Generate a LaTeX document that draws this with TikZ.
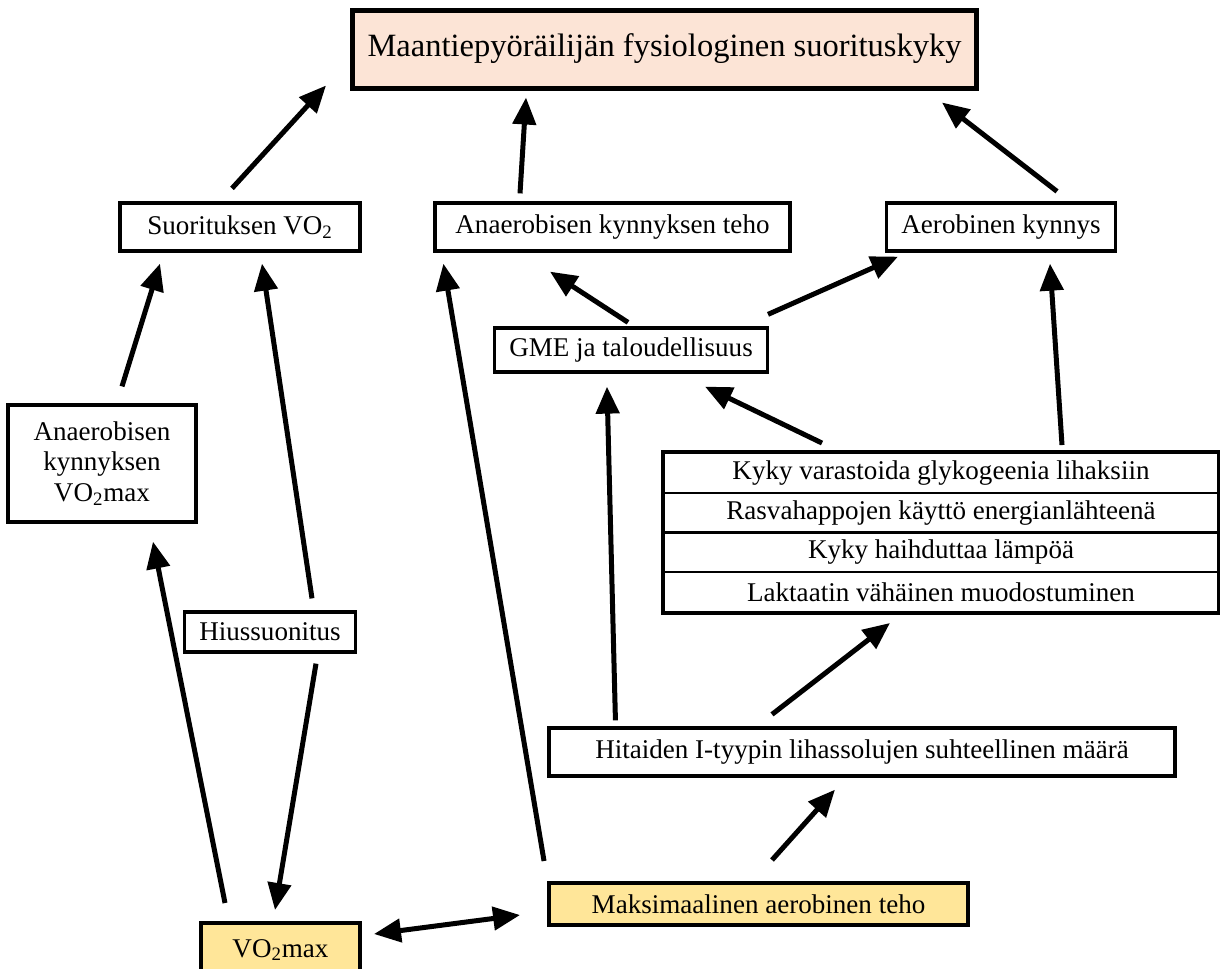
\documentclass[tikz,border=0pt]{standalone}
\usepackage{fontspec}
\setmainfont{Liberation Serif}
\usetikzlibrary{arrows.meta}

\definecolor{peach}{HTML}{FCE4D6}
\definecolor{sand}{HTML}{FFE699}

\tikzset{
  box/.style={draw,line width=0.65mm,inner xsep=3mm,inner ysep=0pt,align=center,
    minimum height=9.6mm,font=\fontsize{15.4}{17.5}\selectfont},
  rowbox/.style={draw,line width=0.4mm,inner sep=0pt,
    minimum width=110.8mm,minimum height=7.95mm,font=\fontsize{15.4}{17.5}\selectfont},
  arr/.style={line width=1mm,-{Triangle[length=5.4mm,width=4.6mm]}},
  arrboth/.style={line width=1mm,{Triangle[length=5.4mm,width=4.6mm]}-{Triangle[length=5.4mm,width=4.6mm]}},
}

\begin{document}
\begin{tikzpicture}[x=0.02cm,y=-0.02cm]
\useasboundingbox (0,0) rectangle (1220,968);
% the goal
\node[box,fill=peach,line width=1mm,minimum width=123mm,minimum height=15.6mm,
  font=\fontsize{18.5}{22}\selectfont] (perf) at (664.5,49) {Maantiepyöräilijän fysiologinen suorituskyky};
% second level
\node[box,minimum width=48mm] (suorvo) at (240,227) {Suorituksen VO\textsubscript{2}};
\node[box,minimum width=71mm] (anteho) at (612.5,227) {Anaerobisen kynnyksen teho};
\node[box] (aerkyn) at (1001,227) {Aerobinen kynnys};
\node[box,minimum height=8.8mm] (gme) at (631,350) {GME ja taloudellisuus};
% left column
\node[box,minimum width=37.6mm,minimum height=23.4mm] (anvomax) at (102,463.5)
  {Anaerobisen\\kynnyksen\\VO\textsubscript{2}max};
\node[box,minimum height=8mm] (hiuss) at (270,632) {Hiussuonitus};
% the list of properties
\node[rowbox] (row1) at (941,472.9) {Kyky varastoida glykogeenia lihaksiin};
\node[rowbox] (row2) at (941,512.6) {Rasvahappojen käyttö energianlähteenä};
\node[rowbox] (row3) at (941,552.4) {Kyky haihduttaa lämpöä};
\node[rowbox] (row4) at (941,592.1) {Laktaatin vähäinen muodostuminen};
\draw[line width=0.8mm] (row1.north west) rectangle (row4.south east);
% bottom
\node[box,minimum width=125.2mm] (hitaat) at (862,752) {Hitaiden I-tyypin lihassolujen suhteellinen määrä};
\node[box,fill=sand,line width=0.8mm,minimum width=83.8mm,minimum height=8.4mm] (maks) at (758.5,904) {Maksimaalinen aerobinen teho};
\node[box,fill=sand,line width=0.8mm,minimum width=31.8mm,minimum height=10.8mm] (vomax) at (280.5,950) {VO\textsubscript{2}max};

% the arrows
\draw[arr] ([shift={(-8,-13)}]suorvo.north) -- ([shift={(-24,-5)}]perf.south west);
\draw[arr] ([shift={(-92.5,-8)}]anteho.north) -- ([shift={(-138.5,7)}]perf.south);
\draw[arr] ([shift={(56,-10)}]aerkyn.north) -- ([shift={(-37,12)}]perf.south east);
\draw[arr] ([shift={(20,-17)}]anvomax.north) -- ([shift={(-80,11)}]suorvo.south);
\draw[arr] ([shift={(42,-12)}]hiuss.north) -- ([shift={(22,11)}]suorvo.south);
\draw[arr] ([shift={(-55.5,-18)}]vomax.north) -- ([shift={(51,18)}]anvomax.south);
\draw[arr] ([shift={(46,10)}]hiuss.south) -- ([shift={(-5.5,-11)}]vomax.north);
\draw[arrboth] ([shift={(12,-16)}]vomax.east) -- ([shift={(-27,11)}]maks.west);
\draw[arr] ([shift={(-3,-20)}]maks.north west) -- ([shift={(10,11)}]anteho.south west);
\draw[arr] ([shift={(13.5,-21)}]maks.north) -- ([shift={(-27,12)}]hitaat.south);
\draw[arr] ([shift={(68,-6)}]hitaat.north west) -- ([shift={(-24,13)}]gme.south);
\draw[arr] ([shift={(-90,-12)}]hitaat.north) -- ([shift={(-51,10)}]row4.south);
\draw[arr] ([shift={(-119,-9)}]row1.north) -- ([shift={(74,13)}]gme.south);
\draw[arr] ([shift={(121,-7)}]row1.north) -- ([shift={(49,11)}]aerkyn.south);
\draw[arr] ([shift={(-3,-4)}]gme.north) -- ([shift={(-62.5,19)}]anteho.south);
\draw[arr] ([shift={(137,-12)}]gme.north) -- ([shift={(-103,4)}]aerkyn.south);
\end{tikzpicture}
\end{document}
